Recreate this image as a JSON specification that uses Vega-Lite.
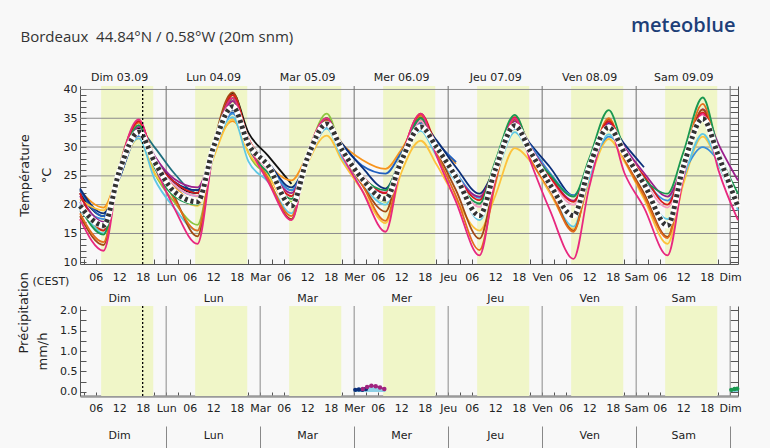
{
"$schema": "https://vega.github.io/schema/vega-lite/v6.json",
"background": "#f8f8f8",
"autosize": {"type": "none"},
"width": 658,
"height": 310,
"padding": {"left": 80, "top": 86, "right": 32, "bottom": 52},
"config": {
  "view": {"stroke": null},
  "font": "DejaVu Sans",
  "axis": {"labelFont": "DejaVu Sans", "labelFontSize": 11, "labelColor": "#222", "titleFont": "DejaVu Sans", "titleFontWeight": "normal", "titleColor": "#222", "domainColor": "#555", "tickColor": "#555", "labelFlush": false, "labelOverlap": false, "grid": false}
},
"datasets": {
  "day": [{"d0": 7.4, "d1": 20.7}, {"d0": 31.4, "d1": 44.7}, {"d0": 55.4, "d1": 68.7}, {"d0": 79.4, "d1": 92.7}, {"d0": 103.4, "d1": 116.7}, {"d0": 127.4, "d1": 140.7}, {"d0": 151.4, "d1": 164.7}],
  "days": [{"h": 24}, {"h": 48}, {"h": 72}, {"h": 96}, {"h": 120}, {"h": 144}, {"h": 168}],
  "hgrid": [{"g": 15}, {"g": 20}, {"g": 25}, {"g": 30}, {"g": 35}, {"g": 40}],
  "now": [{"h": 18}],
  "rainarea": [{"g": "a", "h": 72, "p": 0.06}, {"g": "a", "h": 74, "p": 0.1}, {"g": "a", "h": 76, "p": 0.12}, {"g": "a", "h": 78, "p": 0.1}, {"g": "a", "h": 80, "p": 0.03}, {"g": "b", "h": 168, "p": 0.06}, {"g": "b", "h": 169, "p": 0.07}, {"g": "b", "h": 170, "p": 0.07}],
  "rain": [{"m": "navy", "h": 72.3, "p": 0.05}, {"m": "navy", "h": 73.2, "p": 0.06}, {"m": "navy", "h": 74.1, "p": 0.05}, {"m": "navy", "h": 75, "p": 0.07},
    {"m": "purple", "h": 74.2, "p": 0.07}, {"m": "purple", "h": 75.3, "p": 0.12}, {"m": "purple", "h": 76.4, "p": 0.15}, {"m": "purple", "h": 77.5, "p": 0.14}, {"m": "purple", "h": 78.6, "p": 0.11}, {"m": "purple", "h": 79.7, "p": 0.07},
    {"m": "green", "h": 168.3, "p": 0.05}, {"m": "green", "h": 169.1, "p": 0.07}, {"m": "green", "h": 169.8, "p": 0.08}],
  "temp": [
{"m":"lgreen","h":2,"v":19.5},{"m":"lgreen","h":8,"v":15.5},{"m":"lgreen","h":12,"v":25},{"m":"lgreen","h":17,"v":32.5},{"m":"lgreen","h":21,"v":25.5},{"m":"lgreen","h":26,"v":20.5},{"m":"lgreen","h":32,"v":16.5},{"m":"lgreen","h":36,"v":28.5},{"m":"lgreen","h":41,"v":38},{"m":"lgreen","h":45,"v":29},{"m":"lgreen","h":50,"v":25},{"m":"lgreen","h":56,"v":20.5},{"m":"lgreen","h":60,"v":28.5},{"m":"lgreen","h":65,"v":35.8},{"m":"lgreen","h":69,"v":29},{"m":"lgreen","h":74,"v":24},{"m":"lgreen","h":80,"v":20.5},{"m":"lgreen","h":84,"v":27},
{"m":"teal","h":2,"v":19},{"m":"teal","h":8,"v":16},{"m":"teal","h":12,"v":25},{"m":"teal","h":17,"v":33},{"m":"teal","h":21,"v":30},{"m":"teal","h":26,"v":25.5},{"m":"teal","h":32,"v":22},{"m":"teal","h":36,"v":29.5},{"m":"teal","h":41,"v":38.5},{"m":"teal","h":45,"v":31},{"m":"teal","h":50,"v":26.5},
{"m":"black","h":2,"v":22},{"m":"black","h":8,"v":18},{"m":"black","h":12,"v":25.5},{"m":"black","h":17,"v":33.2},{"m":"black","h":21,"v":28},{"m":"black","h":26,"v":23.7},{"m":"black","h":32,"v":22},{"m":"black","h":36,"v":30},{"m":"black","h":41,"v":39.3},{"m":"black","h":45,"v":32.5},{"m":"black","h":50,"v":28.5},{"m":"black","h":56,"v":23.6},
{"m":"orange","h":2,"v":22.5},{"m":"orange","h":8,"v":19.5},{"m":"orange","h":12,"v":26},{"m":"orange","h":17,"v":34.5},{"m":"orange","h":21,"v":27.5},{"m":"orange","h":26,"v":23.2},{"m":"orange","h":32,"v":20.5},{"m":"orange","h":36,"v":29},{"m":"orange","h":41,"v":34.5},{"m":"orange","h":45,"v":31},{"m":"orange","h":50,"v":27},{"m":"orange","h":56,"v":24.2},{"m":"orange","h":60,"v":28.5},{"m":"orange","h":65,"v":34.5},{"m":"orange","h":69,"v":30.5},{"m":"orange","h":74,"v":27.8},{"m":"orange","h":80,"v":26.2},{"m":"orange","h":84,"v":29.5},{"m":"orange","h":89,"v":34.5},{"m":"orange","h":93,"v":31},{"m":"orange","h":98,"v":27.1},
{"m":"blue2","h":2,"v":22.5},{"m":"blue2","h":8,"v":18},{"m":"blue2","h":12,"v":24.5},{"m":"blue2","h":17,"v":32},{"m":"blue2","h":21,"v":28},{"m":"blue2","h":26,"v":24},{"m":"blue2","h":32,"v":22.5},{"m":"blue2","h":36,"v":29},{"m":"blue2","h":41,"v":36},{"m":"blue2","h":45,"v":31},{"m":"blue2","h":50,"v":27},{"m":"blue2","h":56,"v":22.5},{"m":"blue2","h":60,"v":27.5},{"m":"blue2","h":65,"v":33.5},{"m":"blue2","h":69,"v":30.3},{"m":"blue2","h":74,"v":26.8},{"m":"blue2","h":80,"v":25.4},{"m":"blue2","h":84,"v":29},{"m":"blue2","h":89,"v":34},{"m":"blue2","h":93,"v":30.8},{"m":"blue2","h":98,"v":27.4},
{"m":"navy","h":2,"v":22.8},{"m":"navy","h":8,"v":18.5},{"m":"navy","h":12,"v":24.5},{"m":"navy","h":17,"v":32.3},{"m":"navy","h":21,"v":28.3},{"m":"navy","h":26,"v":24},{"m":"navy","h":32,"v":22.5},{"m":"navy","h":36,"v":29},{"m":"navy","h":41,"v":36.5},{"m":"navy","h":45,"v":31},{"m":"navy","h":50,"v":27.3},{"m":"navy","h":56,"v":23},{"m":"navy","h":60,"v":27.5},{"m":"navy","h":65,"v":33.8},{"m":"navy","h":69,"v":30.5},{"m":"navy","h":74,"v":26.5},{"m":"navy","h":80,"v":22.8},{"m":"navy","h":84,"v":28},{"m":"navy","h":89,"v":34.4},{"m":"navy","h":93,"v":31.2},{"m":"navy","h":98,"v":26.5},{"m":"navy","h":104,"v":21.9},{"m":"navy","h":108,"v":26.5},{"m":"navy","h":113,"v":34},{"m":"navy","h":117,"v":30.5},{"m":"navy","h":122,"v":26.5},{"m":"navy","h":128,"v":21.6},{"m":"navy","h":132,"v":26.5},{"m":"navy","h":137,"v":34},{"m":"navy","h":141,"v":30.5},{"m":"navy","h":146,"v":26.5},
{"m":"yellow","h":2,"v":21},{"m":"yellow","h":8,"v":19},{"m":"yellow","h":12,"v":25.5},{"m":"yellow","h":17,"v":31.5},{"m":"yellow","h":21,"v":25.5},{"m":"yellow","h":26,"v":22},{"m":"yellow","h":32,"v":19.8},{"m":"yellow","h":36,"v":28},{"m":"yellow","h":41,"v":34.8},{"m":"yellow","h":45,"v":29},{"m":"yellow","h":50,"v":25},{"m":"yellow","h":56,"v":19.5},{"m":"yellow","h":60,"v":27},{"m":"yellow","h":65,"v":32},{"m":"yellow","h":69,"v":27.5},{"m":"yellow","h":74,"v":22.5},{"m":"yellow","h":80,"v":16.8},{"m":"yellow","h":84,"v":25.5},{"m":"yellow","h":89,"v":31.1},{"m":"yellow","h":93,"v":27},{"m":"yellow","h":98,"v":21},{"m":"yellow","h":104,"v":15.5},{"m":"yellow","h":108,"v":21.5},{"m":"yellow","h":113,"v":29.8},{"m":"yellow","h":117,"v":27.5},{"m":"yellow","h":122,"v":22},{"m":"yellow","h":128,"v":15.8},{"m":"yellow","h":132,"v":24},{"m":"yellow","h":137,"v":31.4},{"m":"yellow","h":141,"v":27.5},{"m":"yellow","h":146,"v":21},{"m":"yellow","h":152,"v":13.2},{"m":"yellow","h":156,"v":23.5},{"m":"yellow","h":161,"v":31.8},{"m":"yellow","h":165,"v":27},{"m":"yellow","h":170,"v":19.5},
{"m":"blue","h":2,"v":20},{"m":"blue","h":8,"v":17.5},{"m":"blue","h":12,"v":25},{"m":"blue","h":17,"v":32},{"m":"blue","h":21,"v":28},{"m":"blue","h":26,"v":23.5},{"m":"blue","h":32,"v":21.5},{"m":"blue","h":36,"v":29},{"m":"blue","h":41,"v":35.8},{"m":"blue","h":45,"v":30.5},{"m":"blue","h":50,"v":26.8},{"m":"blue","h":56,"v":22.5},{"m":"blue","h":60,"v":27.5},{"m":"blue","h":65,"v":33.3},{"m":"blue","h":69,"v":29.5},{"m":"blue","h":74,"v":24.5},{"m":"blue","h":80,"v":22},{"m":"blue","h":84,"v":27.5},{"m":"blue","h":89,"v":33.5},{"m":"blue","h":93,"v":30},{"m":"blue","h":98,"v":25.5},{"m":"blue","h":104,"v":21.2},{"m":"blue","h":108,"v":26},{"m":"blue","h":113,"v":33.2},{"m":"blue","h":117,"v":30.2},{"m":"blue","h":122,"v":25.5},{"m":"blue","h":128,"v":21.6},{"m":"blue","h":132,"v":26},{"m":"blue","h":137,"v":31.8},{"m":"blue","h":141,"v":29.5},{"m":"blue","h":146,"v":24.5},{"m":"blue","h":152,"v":20.7},{"m":"blue","h":156,"v":25.5},{"m":"blue","h":161,"v":30},{"m":"blue","h":165,"v":27.5},{"m":"blue","h":170,"v":20},
{"m":"cyan","h":2,"v":20.5},{"m":"cyan","h":8,"v":15},{"m":"cyan","h":12,"v":25.5},{"m":"cyan","h":17,"v":31.5},{"m":"cyan","h":21,"v":24.5},{"m":"cyan","h":26,"v":19.5},{"m":"cyan","h":32,"v":15.5},{"m":"cyan","h":36,"v":28.5},{"m":"cyan","h":41,"v":35.2},{"m":"cyan","h":45,"v":27.5},{"m":"cyan","h":50,"v":24},{"m":"cyan","h":56,"v":18.5},{"m":"cyan","h":60,"v":27.5},{"m":"cyan","h":65,"v":33.2},{"m":"cyan","h":69,"v":28},{"m":"cyan","h":74,"v":23.5},{"m":"cyan","h":80,"v":20},{"m":"cyan","h":84,"v":27},{"m":"cyan","h":89,"v":32.8},{"m":"cyan","h":93,"v":28.5},{"m":"cyan","h":98,"v":24},{"m":"cyan","h":104,"v":17.3},{"m":"cyan","h":108,"v":24.5},{"m":"cyan","h":113,"v":32.6},{"m":"cyan","h":117,"v":28.5},{"m":"cyan","h":122,"v":22.5},{"m":"cyan","h":128,"v":16.2},{"m":"cyan","h":132,"v":24.5},{"m":"cyan","h":137,"v":32.2},{"m":"cyan","h":141,"v":28.5},{"m":"cyan","h":146,"v":23},{"m":"cyan","h":152,"v":17.5},{"m":"cyan","h":156,"v":24.5},{"m":"cyan","h":161,"v":32.3},{"m":"cyan","h":165,"v":27},{"m":"cyan","h":170,"v":19},
{"m":"pink","h":2,"v":20.5},{"m":"pink","h":8,"v":16},{"m":"pink","h":12,"v":25.5},{"m":"pink","h":17,"v":33},{"m":"pink","h":21,"v":27.5},{"m":"pink","h":26,"v":23.5},{"m":"pink","h":32,"v":21.5},{"m":"pink","h":36,"v":29.5},{"m":"pink","h":41,"v":37},{"m":"pink","h":45,"v":30.5},{"m":"pink","h":50,"v":26},{"m":"pink","h":56,"v":21},{"m":"pink","h":60,"v":28},{"m":"pink","h":65,"v":34.5},{"m":"pink","h":69,"v":29.5},{"m":"pink","h":74,"v":24.5},{"m":"pink","h":80,"v":22.2},{"m":"pink","h":84,"v":28},{"m":"pink","h":89,"v":34.5},{"m":"pink","h":93,"v":29.5},{"m":"pink","h":98,"v":24.5},{"m":"pink","h":104,"v":19.6},{"m":"pink","h":108,"v":26},{"m":"pink","h":113,"v":34.5},{"m":"pink","h":117,"v":29.5},{"m":"pink","h":122,"v":24.5},{"m":"pink","h":128,"v":20},{"m":"pink","h":132,"v":26.5},{"m":"pink","h":137,"v":33.8},{"m":"pink","h":141,"v":29},{"m":"pink","h":146,"v":24},{"m":"pink","h":152,"v":19.5},{"m":"pink","h":156,"v":26.5},{"m":"pink","h":161,"v":35.5},{"m":"pink","h":165,"v":28.5},{"m":"pink","h":170,"v":20.5},
{"m":"purple","h":2,"v":21.5},{"m":"purple","h":8,"v":17},{"m":"purple","h":12,"v":25},{"m":"purple","h":17,"v":33.5},{"m":"purple","h":21,"v":28.5},{"m":"purple","h":26,"v":24.5},{"m":"purple","h":32,"v":23},{"m":"purple","h":36,"v":29.5},{"m":"purple","h":41,"v":38},{"m":"purple","h":45,"v":31},{"m":"purple","h":50,"v":26.5},{"m":"purple","h":56,"v":22},{"m":"purple","h":60,"v":28},{"m":"purple","h":65,"v":34.5},{"m":"purple","h":69,"v":29.5},{"m":"purple","h":74,"v":25},{"m":"purple","h":80,"v":22},{"m":"purple","h":84,"v":28},{"m":"purple","h":89,"v":35},{"m":"purple","h":93,"v":30.5},{"m":"purple","h":98,"v":25},{"m":"purple","h":104,"v":21.4},{"m":"purple","h":108,"v":26.5},{"m":"purple","h":113,"v":34.5},{"m":"purple","h":117,"v":30},{"m":"purple","h":122,"v":25},{"m":"purple","h":128,"v":20.7},{"m":"purple","h":132,"v":26.5},{"m":"purple","h":137,"v":34.3},{"m":"purple","h":141,"v":30},{"m":"purple","h":146,"v":25.5},{"m":"purple","h":152,"v":21.4},{"m":"purple","h":156,"v":27},{"m":"purple","h":161,"v":36.6},{"m":"purple","h":165,"v":30.5},{"m":"purple","h":170,"v":24.2},
{"m":"brown","h":2,"v":18},{"m":"brown","h":8,"v":13},{"m":"brown","h":12,"v":26.5},{"m":"brown","h":17,"v":34.3},{"m":"brown","h":21,"v":27.8},{"m":"brown","h":26,"v":21.5},{"m":"brown","h":32,"v":14.5},{"m":"brown","h":36,"v":30},{"m":"brown","h":41,"v":39.5},{"m":"brown","h":45,"v":31},{"m":"brown","h":50,"v":24.5},{"m":"brown","h":56,"v":17.5},{"m":"brown","h":60,"v":28.5},{"m":"brown","h":65,"v":34.8},{"m":"brown","h":69,"v":29},{"m":"brown","h":74,"v":23.5},{"m":"brown","h":80,"v":18.8},{"m":"brown","h":84,"v":28},{"m":"brown","h":89,"v":35.2},{"m":"brown","h":93,"v":29.5},{"m":"brown","h":98,"v":22.5},{"m":"brown","h":104,"v":14.1},{"m":"brown","h":108,"v":24.5},{"m":"brown","h":113,"v":34.8},{"m":"brown","h":117,"v":28.5},{"m":"brown","h":122,"v":23},{"m":"brown","h":128,"v":15.5},{"m":"brown","h":132,"v":25.5},{"m":"brown","h":137,"v":34.8},{"m":"brown","h":141,"v":28},{"m":"brown","h":146,"v":22},{"m":"brown","h":152,"v":14.4},{"m":"brown","h":156,"v":26},{"m":"brown","h":161,"v":36.5},{"m":"brown","h":165,"v":28.5},{"m":"brown","h":170,"v":20.7},
{"m":"dorange","h":2,"v":18.5},{"m":"dorange","h":8,"v":13.5},{"m":"dorange","h":12,"v":26},{"m":"dorange","h":17,"v":34.3},{"m":"dorange","h":21,"v":27.8},{"m":"dorange","h":26,"v":21},{"m":"dorange","h":32,"v":15.5},{"m":"dorange","h":36,"v":29.5},{"m":"dorange","h":41,"v":39},{"m":"dorange","h":45,"v":31},{"m":"dorange","h":50,"v":24.5},{"m":"dorange","h":56,"v":18},{"m":"dorange","h":60,"v":28.5},{"m":"dorange","h":65,"v":34.5},{"m":"dorange","h":69,"v":29},{"m":"dorange","h":74,"v":23.5},{"m":"dorange","h":80,"v":17.2},{"m":"dorange","h":84,"v":27.5},{"m":"dorange","h":89,"v":35.5},{"m":"dorange","h":93,"v":29},{"m":"dorange","h":98,"v":21.5},{"m":"dorange","h":104,"v":12.1},{"m":"dorange","h":108,"v":23.5},{"m":"dorange","h":113,"v":35},{"m":"dorange","h":117,"v":28},{"m":"dorange","h":122,"v":22.5},{"m":"dorange","h":128,"v":15.3},{"m":"dorange","h":132,"v":25.5},{"m":"dorange","h":137,"v":35},{"m":"dorange","h":141,"v":28},{"m":"dorange","h":146,"v":21.5},{"m":"dorange","h":152,"v":14.2},{"m":"dorange","h":156,"v":26.5},{"m":"dorange","h":161,"v":37.5},{"m":"dorange","h":165,"v":28.5},{"m":"dorange","h":170,"v":20.3},
{"m":"red","h":2,"v":22},{"m":"red","h":8,"v":15.5},{"m":"red","h":12,"v":26},{"m":"red","h":17,"v":34.5},{"m":"red","h":21,"v":28},{"m":"red","h":26,"v":24},{"m":"red","h":32,"v":22},{"m":"red","h":36,"v":30.5},{"m":"red","h":41,"v":39},{"m":"red","h":45,"v":31.5},{"m":"red","h":50,"v":26.5},{"m":"red","h":56,"v":21.5},{"m":"red","h":60,"v":28.5},{"m":"red","h":65,"v":35},{"m":"red","h":69,"v":29.5},{"m":"red","h":74,"v":25},{"m":"red","h":80,"v":22},{"m":"red","h":84,"v":28.5},{"m":"red","h":89,"v":35.8},{"m":"red","h":93,"v":30.3},{"m":"red","h":98,"v":25},{"m":"red","h":104,"v":20.8},{"m":"red","h":108,"v":27},{"m":"red","h":113,"v":35.2},{"m":"red","h":117,"v":29.8},{"m":"red","h":122,"v":24.8},{"m":"red","h":128,"v":20.5},{"m":"red","h":132,"v":27},{"m":"red","h":137,"v":34.5},{"m":"red","h":141,"v":29.5},{"m":"red","h":146,"v":25},{"m":"red","h":152,"v":20},{"m":"red","h":156,"v":27},{"m":"red","h":161,"v":36},{"m":"red","h":165,"v":29},{"m":"red","h":170,"v":20.5},
{"m":"green","h":2,"v":19.5},{"m":"green","h":8,"v":14.8},{"m":"green","h":12,"v":25.5},{"m":"green","h":17,"v":33.8},{"m":"green","h":21,"v":26.5},{"m":"green","h":26,"v":21.5},{"m":"green","h":32,"v":20},{"m":"green","h":36,"v":30.5},{"m":"green","h":41,"v":38.5},{"m":"green","h":45,"v":30},{"m":"green","h":50,"v":25.5},{"m":"green","h":56,"v":21},{"m":"green","h":60,"v":28.5},{"m":"green","h":65,"v":35},{"m":"green","h":69,"v":29.5},{"m":"green","h":74,"v":24.8},{"m":"green","h":80,"v":22.5},{"m":"green","h":84,"v":28.5},{"m":"green","h":89,"v":35},{"m":"green","h":93,"v":30},{"m":"green","h":98,"v":24.5},{"m":"green","h":104,"v":20.2},{"m":"green","h":108,"v":27.5},{"m":"green","h":113,"v":35.6},{"m":"green","h":117,"v":29.5},{"m":"green","h":122,"v":25.2},{"m":"green","h":128,"v":21.4},{"m":"green","h":132,"v":28},{"m":"green","h":137,"v":36.4},{"m":"green","h":141,"v":29.5},{"m":"green","h":146,"v":24.5},{"m":"green","h":152,"v":21.9},{"m":"green","h":156,"v":29},{"m":"green","h":161,"v":38.6},{"m":"green","h":165,"v":29.5},{"m":"green","h":170,"v":21.9},
{"m":"magenta","h":2,"v":17.5},{"m":"magenta","h":8,"v":12},{"m":"magenta","h":12,"v":26},{"m":"magenta","h":17,"v":34.8},{"m":"magenta","h":21,"v":27},{"m":"magenta","h":26,"v":19.5},{"m":"magenta","h":32,"v":13.2},{"m":"magenta","h":36,"v":29},{"m":"magenta","h":41,"v":38.5},{"m":"magenta","h":45,"v":30.5},{"m":"magenta","h":50,"v":24},{"m":"magenta","h":56,"v":17.3},{"m":"magenta","h":60,"v":28.5},{"m":"magenta","h":65,"v":35},{"m":"magenta","h":69,"v":28.5},{"m":"magenta","h":74,"v":22.5},{"m":"magenta","h":80,"v":15.3},{"m":"magenta","h":84,"v":27.5},{"m":"magenta","h":89,"v":35.8},{"m":"magenta","h":93,"v":28.5},{"m":"magenta","h":98,"v":20.5},{"m":"magenta","h":104,"v":11.2},{"m":"magenta","h":108,"v":24.5},{"m":"magenta","h":113,"v":35},{"m":"magenta","h":117,"v":27.5},{"m":"magenta","h":122,"v":19},{"m":"magenta","h":128,"v":10.6},{"m":"magenta","h":132,"v":23},{"m":"magenta","h":137,"v":33.5},{"m":"magenta","h":141,"v":25.5},{"m":"magenta","h":146,"v":19.5},{"m":"magenta","h":152,"v":11.2},{"m":"magenta","h":156,"v":24.5},{"m":"magenta","h":161,"v":35.8},{"m":"magenta","h":165,"v":26},{"m":"magenta","h":170,"v":17.3},
{"m":"mean","h":2,"v":19.8},{"m":"mean","h":8,"v":16.4},{"m":"mean","h":12,"v":25.7},{"m":"mean","h":17,"v":32.6},{"m":"mean","h":21,"v":27.5},{"m":"mean","h":26,"v":22.3},{"m":"mean","h":32,"v":20.5},{"m":"mean","h":36,"v":29.8},{"m":"mean","h":41,"v":37},{"m":"mean","h":45,"v":30.5},{"m":"mean","h":50,"v":26.8},{"m":"mean","h":56,"v":19.8},{"m":"mean","h":60,"v":28},{"m":"mean","h":65,"v":34},{"m":"mean","h":69,"v":29.4},{"m":"mean","h":74,"v":24.5},{"m":"mean","h":80,"v":21},{"m":"mean","h":84,"v":27.5},{"m":"mean","h":89,"v":33.5},{"m":"mean","h":93,"v":30},{"m":"mean","h":98,"v":24.8},{"m":"mean","h":104,"v":18.1},{"m":"mean","h":108,"v":26},{"m":"mean","h":113,"v":33.7},{"m":"mean","h":117,"v":29.2},{"m":"mean","h":122,"v":23.5},{"m":"mean","h":128,"v":18.1},{"m":"mean","h":132,"v":26.5},{"m":"mean","h":137,"v":33.4},{"m":"mean","h":141,"v":29},{"m":"mean","h":146,"v":23.6},{"m":"mean","h":152,"v":16.4},{"m":"mean","h":156,"v":26.5},{"m":"mean","h":161,"v":34.9},{"m":"mean","h":165,"v":28.5},{"m":"mean","h":170,"v":19.6}
  ]
},
"resolve": {"scale": {"y": "independent", "color": "independent"}, "axis": {"x": "independent", "y": "independent"}},
"layer": [
  {"data": {"name": "day"}, "mark": {"type": "rect", "color": "#f0f6c8"},
   "encoding": {
     "x": {"field": "d0", "type": "quantitative", "scale": {"domain": [2, 170], "nice": false, "zero": false},
           "axis": {"orient": "bottom", "offset": -132, "values": [3,6,9,12,15,18,21,24,27,30,33,36,39,42,45,48,51,54,57,60,63,66,69,72,75,78,81,84,87,90,93,96,99,102,105,108,111,114,117,120,123,126,129,132,135,138,141,144,147,150,153,156,159,162,165,168],
                    "labelExpr": "datum.value % 6 != 0 ? '' : (datum.value % 24 == 0 ? ['Dim','Lun','Mar','Mer','Jeu','Ven','Sam','Dim'][datum.value / 24] : (datum.value % 24 < 10 ? '0' : '') + (datum.value % 24))",
                    "tickSize": -5, "labelPadding": 12,
                    "title": "(CEST)", "titleX": -48, "titleY": 17, "titleAlign": "left", "titleBaseline": "middle", "titleFontSize": 11}},
     "x2": {"field": "d1"},
     "y": {"datum": 40.6, "type": "quantitative", "scale": {"domain": [9.7, 40.6], "range": [178, 0], "nice": false, "zero": false}, "axis": null},
     "y2": {"datum": 9.7}}},
  {"data": {"name": "day"}, "mark": {"type": "rect", "color": "#f0f6c8"},
   "encoding": {
     "x": {"field": "d0", "type": "quantitative", "scale": {"domain": [2, 170], "nice": false, "zero": false},
           "axis": {"orient": "bottom", "values": [3,6,9,12,15,18,21,24,27,30,33,36,39,42,45,48,51,54,57,60,63,66,69,72,75,78,81,84,87,90,93,96,99,102,105,108,111,114,117,120,123,126,129,132,135,138,141,144,147,150,153,156,159,162,165,168],
                    "labelExpr": "datum.value % 6 != 0 ? '' : (datum.value % 24 == 0 ? ['Dim','Lun','Mar','Mer','Jeu','Ven','Sam','Dim'][datum.value / 24] : (datum.value % 24 < 10 ? '0' : '') + (datum.value % 24))",
                    "tickSize": -4, "labelPadding": 10, "domainColor": "#9a9a9a", "domainWidth": 2.5, "title": null}},
     "x2": {"field": "d1"},
     "y": {"datum": 2.1, "type": "quantitative", "scale": {"domain": [-0.1, 2.1], "range": [310, 220], "nice": false, "zero": false}, "axis": null},
     "y2": {"datum": -0.1}}},
  {"data": {"name": "hgrid"}, "mark": {"type": "rule", "color": "#8a8a8a", "strokeWidth": 1},
   "encoding": {
     "y": {"field": "g", "type": "quantitative", "scale": {"domain": [9.7, 40.6], "range": [178, 0], "nice": false, "zero": false},
           "axis": {"orient": "left", "values": [10,11,12,13,14,15,16,17,18,19,20,21,22,23,24,25,26,27,28,29,30,31,32,33,34,35,36,37,38,39,40],
                    "labelExpr": "datum.value % 5 == 0 ? datum.label : ''", "tickSize": -6, "labelPadding": 9,
                    "title": ["Température", "°C"], "titleFontSize": 13, "titleLineHeight": 22, "titlePadding": 10}}}},
  {"data": {"name": "days"}, "mark": {"type": "rule", "color": "#707070", "strokeWidth": 1},
   "encoding": {
     "x": {"field": "h", "type": "quantitative", "scale": {"domain": [2, 170], "nice": false, "zero": false},
           "axis": {"orient": "top", "values": [12,36,60,84,108,132,156],
                    "labelExpr": "['Dim 03.09','Lun 04.09','Mar 05.09','Mer 06.09','Jeu 07.09','Ven 08.09','Sam 09.09'][(datum.value - 12) / 24]",
                    "ticks": false, "domain": false, "labelPadding": 4,
                    "title": "meteoblue", "titleX": 655, "titleY": -55, "titleAlign": "right", "titleBaseline": "alphabetic", "titleFont": "Open Sans", "titleFontSize": 20, "titleFontWeight": 600, "titleColor": "#1d3f78"}},
     "y": {"datum": 40.6, "type": "quantitative", "scale": {"domain": [9.7, 40.6], "range": [178, 0], "nice": false, "zero": false}, "axis": null},
     "y2": {"datum": 9.7}}},
  {"data": {"name": "days"}, "mark": {"type": "rule", "color": "#8a8a8a", "strokeWidth": 1},
   "encoding": {
     "x": {"field": "h", "type": "quantitative", "scale": {"domain": [2, 170], "nice": false, "zero": false},
           "axis": {"orient": "top", "offset": -220, "values": [12,36,60,84,108,132,156],
                    "labelExpr": "['Dim','Lun','Mar','Mer','Jeu','Ven','Sam'][(datum.value - 12) / 24]",
                    "ticks": false, "domain": false, "labelPadding": 3,
                    "title": "Bordeaux\u00a0 44.84°N / 0.58°W (20m snm)", "titleX": -60, "titleY": -265, "titleAlign": "left", "titleBaseline": "alphabetic", "titleFont": "Open Sans", "titleFontSize": 15, "titleColor": "#333"}},
     "y": {"datum": 2.1, "type": "quantitative", "scale": {"domain": [-0.1, 2.1], "range": [310, 220], "nice": false, "zero": false}, "axis": null},
     "y2": {"datum": -0.1}}},
  {"data": {"name": "temp"}, "transform": [{"filter": "datum.m != 'mean'"}],
   "mark": {"type": "line", "interpolate": "monotone", "strokeWidth": 1.8},
   "encoding": {
     "x": {"field": "h", "type": "quantitative", "scale": {"domain": [2, 170], "nice": false, "zero": false}, "axis": null},
     "y": {"field": "v", "type": "quantitative", "scale": {"domain": [9.7, 40.6], "range": [178, 0], "nice": false, "zero": false},
           "axis": {"orient": "right", "values": [10,11,12,13,14,15,16,17,18,19,20,21,22,23,24,25,26,27,28,29,30,31,32,33,34,35,36,37,38,39,40], "labels": false, "tickSize": -8, "title": null}},
     "color": {"field": "m", "type": "nominal", "legend": null,
               "scale": {"domain": ["lgreen","teal","black","orange","blue2","navy","yellow","blue","cyan","pink","purple","brown","dorange","red","green","magenta"],
                         "range": ["#8dc63f","#1f6f7f","#111111","#f7941d","#1f5fbf","#0b2f7a","#fdc33c","#3b8fd9","#5ec8e5","#f49ac1","#9b1f8c","#a24a14","#e36c1c","#d7191c","#1a9850","#e8287f"]}}}},
  {"data": {"name": "temp"}, "transform": [{"filter": "datum.m == 'mean'"}],
   "mark": {"type": "line", "interpolate": "monotone", "strokeWidth": 6, "color": "#ffffff"},
   "encoding": {
     "x": {"field": "h", "type": "quantitative", "scale": {"domain": [2, 170], "nice": false, "zero": false}, "axis": null},
     "y": {"field": "v", "type": "quantitative", "scale": {"domain": [9.7, 40.6], "range": [178, 0], "nice": false, "zero": false}, "axis": null}}},
  {"data": {"name": "temp"}, "transform": [{"filter": "datum.m == 'mean'"}],
   "mark": {"type": "line", "interpolate": "monotone", "strokeWidth": 5, "color": "#333333", "strokeDash": [3, 3]},
   "encoding": {
     "x": {"field": "h", "type": "quantitative", "scale": {"domain": [2, 170], "nice": false, "zero": false}, "axis": null},
     "y": {"field": "v", "type": "quantitative", "scale": {"domain": [9.7, 40.6], "range": [178, 0], "nice": false, "zero": false}, "axis": null}}},
  {"data": {"name": "now"}, "mark": {"type": "rule", "color": "#000000", "strokeWidth": 1.3, "strokeDash": [2, 2]},
   "encoding": {
     "x": {"field": "h", "type": "quantitative", "scale": {"domain": [2, 170], "nice": false, "zero": false},
           "axis": {"orient": "bottom", "offset": 30, "values": [12,36,60,84,108,132,156],
                    "labelExpr": "['Dim','Lun','Mar','Mer','Jeu','Ven','Sam'][(datum.value - 12) / 24]",
                    "ticks": false, "domain": false, "labelPadding": 3, "title": null}},
     "y": {"datum": 40.6, "type": "quantitative", "scale": {"domain": [9.7, 40.6], "range": [178, 0], "nice": false, "zero": false}, "axis": null},
     "y2": {"datum": 9.7}}},
  {"data": {"name": "now"}, "mark": {"type": "rule", "color": "#000000", "strokeWidth": 1.3, "strokeDash": [2, 2]},
   "encoding": {
     "x": {"field": "h", "type": "quantitative", "scale": {"domain": [2, 170], "nice": false, "zero": false},
           "axis": {"orient": "bottom", "offset": 30, "values": [24,48,72,96,120,144,168], "labels": false, "domain": false, "tickSize": 23, "tickColor": "#888", "title": null}},
     "y": {"datum": 2.1, "type": "quantitative", "scale": {"domain": [-0.1, 2.1], "range": [310, 220], "nice": false, "zero": false}, "axis": null},
     "y2": {"datum": -0.1}}},
  {"data": {"name": "rainarea"}, "mark": {"type": "area", "color": "#8fd0e6", "interpolate": "monotone"},
   "encoding": {
     "x": {"field": "h", "type": "quantitative", "scale": {"domain": [2, 170], "nice": false, "zero": false}, "axis": null},
     "y": {"field": "p", "type": "quantitative", "scale": {"domain": [-0.1, 2.1], "range": [310, 220], "nice": false, "zero": false},
           "axis": {"orient": "left", "values": [0,0.25,0.5,0.75,1,1.25,1.5,1.75,2], "labelExpr": "datum.value % 0.5 == 0 ? format(datum.value, '.1f') : ''",
                    "tickSize": -6, "labelPadding": 9, "title": "mm/h", "titleFontSize": 13, "titlePadding": 10}},
     "y2": {"datum": 0},
     "detail": {"field": "g"}}},
  {"data": {"name": "rain"}, "mark": {"type": "line", "strokeWidth": 1.5},
   "encoding": {
     "x": {"field": "h", "type": "quantitative", "scale": {"domain": [2, 170], "nice": false, "zero": false}, "axis": null},
     "y": {"field": "p", "type": "quantitative", "scale": {"domain": [-0.1, 2.1], "range": [310, 220], "nice": false, "zero": false},
           "axis": {"orient": "right", "values": [0,0.25,0.5,0.75,1,1.25,1.5,1.75,2], "labels": false, "tickSize": -8, "title": null}},
     "color": {"field": "m", "type": "nominal", "legend": null, "scale": {"domain": ["navy", "purple", "green"], "range": ["#0b2f7a", "#a0237f", "#1a9850"]}}}},
  {"data": {"name": "rain"}, "mark": {"type": "point", "filled": true, "size": 20, "opacity": 1},
   "encoding": {
     "x": {"field": "h", "type": "quantitative", "scale": {"domain": [2, 170], "nice": false, "zero": false}, "axis": null},
     "y": {"field": "p", "type": "quantitative", "scale": {"domain": [-0.1, 2.1], "range": [310, 220], "nice": false, "zero": false},
           "axis": {"orient": "left", "labels": false, "ticks": false, "domain": false, "title": "Précipitation", "titleFontSize": 13, "titleX": -57, "titleY": 267, "titleAlign": "left", "titleBaseline": "middle", "titleAngle": 270}},
     "color": {"field": "m", "type": "nominal", "legend": null, "scale": {"domain": ["navy", "purple", "green"], "range": ["#0b2f7a", "#a0237f", "#1a9850"]}}}}
]
}
